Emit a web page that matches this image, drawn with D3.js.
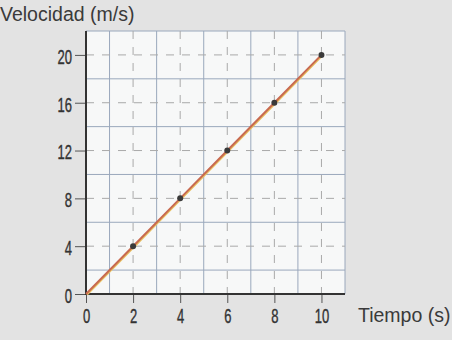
<!DOCTYPE html>
<html>
<head>
<meta charset="utf-8">
<script src="https://cdn.jsdelivr.net/npm/d3@7"></script>
<style>
  body { margin: 0; background: #e3e3e3; }
  svg { display: block; }
  .tick text { font-family: "Liberation Sans", Arial, sans-serif; font-size: 21px; fill: #333; stroke: #333; stroke-width: 0.4px; }
</style>
</head>
<body>
<script>
var tiempo = [0, 2, 4, 6, 8, 10];
var velocidad = [0, 4, 8, 12, 16, 20];
var xTicks = [0, 2, 4, 6, 8, 10];
var yTicks = [0, 4, 8, 12, 16, 20];

var W = 452, H = 340;
var margin = {top: 31, right: 107, bottom: 46, left: 86},
    width = W - margin.left - margin.right,
    height = H - margin.top - margin.bottom;

var x = d3.scaleLinear().domain([0, 11]).range([0, width]);
var y = d3.scaleLinear().domain([0, 22]).range([height, 0]);

var svg = d3.select("body").append("svg")
    .attr("width", W)
    .attr("height", H);

svg.append("text")
    .attr("x", 0).attr("y", 21)
    .style("font-family", "Liberation Sans, Arial, sans-serif")
    .style("font-size", "19.5px")
    .style("fill", "#3a3a3a")
    .text("Velocidad (m/s)");

svg.append("text")
    .attr("x", 358).attr("y", 322)
    .style("font-family", "Liberation Sans, Arial, sans-serif")
    .style("font-size", "19.5px")
    .style("fill", "#3a3a3a")
    .text("Tiempo (s)");

var g = svg.append("g")
    .attr("transform", "translate(" + margin.left + "," + margin.top + ")");

g.append("rect")
    .attr("width", width).attr("height", height)
    .style("fill", "#f7f8f8");

// solid grid lines
var gx = d3.range(1, 12, 2), gy = d3.range(2, 23, 4);
g.append("g").selectAll("line").data(gx).enter().append("line")
    .attr("x1", function(d) { return x(d); }).attr("x2", function(d) { return x(d); })
    .attr("y1", 0).attr("y2", height)
    .style("stroke", "#9aa8bc").style("stroke-width", 1);
g.append("g").selectAll("line").data(gy).enter().append("line")
    .attr("y1", function(d) { return y(d); }).attr("y2", function(d) { return y(d); })
    .attr("x1", 0).attr("x2", width)
    .style("stroke", "#9aa8bc").style("stroke-width", 1);

// dashed lines at ticks
g.append("g").selectAll("line").data(xTicks.slice(1)).enter().append("line")
    .attr("x1", function(d) { return x(d); }).attr("x2", function(d) { return x(d); })
    .attr("y1", 0).attr("y2", height)
    .style("stroke", "#aaaaaa").style("stroke-width", 1)
    .style("stroke-dasharray", "8,8");
g.append("g").selectAll("line").data(yTicks.slice(1)).enter().append("line")
    .attr("y1", function(d) { return y(d); }).attr("y2", function(d) { return y(d); })
    .attr("x1", 0).attr("x2", width)
    .style("stroke", "#aaaaaa").style("stroke-width", 1)
    .style("stroke-dasharray", "8,8");

// axes
var sx = 0.62;
var xAxis = d3.axisBottom(x).tickValues(xTicks).tickSize(9).tickPadding(5);
var yAxis = d3.axisLeft(y).tickValues(yTicks).tickSize(11).tickPadding(3);

var gxA = g.append("g")
    .attr("transform", "translate(0," + height + ")")
    .call(xAxis);
gxA.select(".domain").remove();
gxA.selectAll(".tick line").style("stroke", "#555");
gxA.selectAll(".tick text").attr("transform", "scale(" + sx + ",1)");

var gyA = g.append("g").call(yAxis);
gyA.select(".domain").remove();
gyA.selectAll(".tick line").style("stroke", "#555");
gyA.selectAll(".tick text")
    .attr("dy", "0.4em")
    .attr("x", -14 / sx)
    .attr("transform", "scale(" + sx + ",1)");

g.append("line")
    .attr("x1", 0).attr("x2", width).attr("y1", height).attr("y2", height)
    .style("stroke", "#333").style("stroke-width", 2);
g.append("line")
    .attr("x1", 0).attr("x2", 0).attr("y1", 0).attr("y2", height + 1)
    .style("stroke", "#333").style("stroke-width", 2);

// data line (yellow + red stroke)
var pts = tiempo.map(function(t, i) { return [t, velocidad[i]]; });
var line = d3.line().x(function(d) { return x(d[0]); }).y(function(d) { return y(d[1]); });

g.append("path").datum(pts)
    .attr("d", line)
    .attr("transform", "translate(1,0.5)")
    .style("fill", "none").style("stroke", "#e8c060").style("stroke-width", 2);
g.append("path").datum(pts)
    .attr("d", line)
    .style("fill", "none").style("stroke", "#c86a50").style("stroke-width", 2);

g.append("g").selectAll("circle").data(pts.slice(1)).enter().append("circle")
    .attr("cx", function(d) { return x(d[0]); })
    .attr("cy", function(d) { return y(d[1]); })
    .attr("r", 3)
    .style("fill", "#3a3a3a");
</script>
</body>
</html>
